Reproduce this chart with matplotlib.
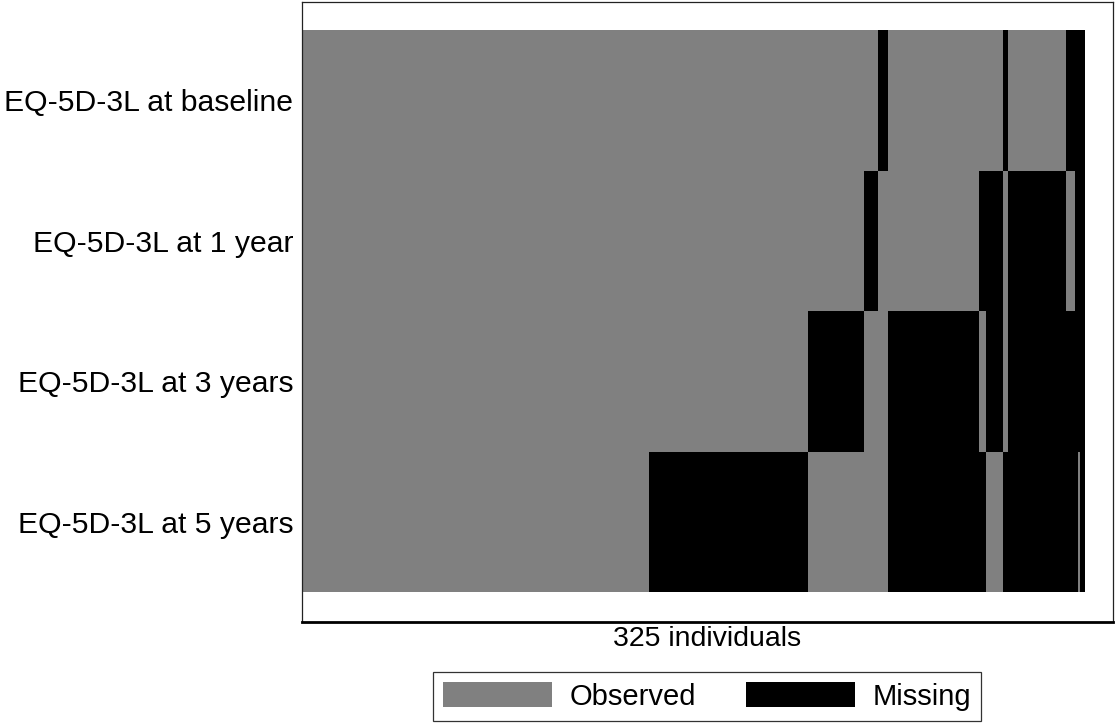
import matplotlib.pyplot as plt
import numpy as np
from matplotlib.colors import ListedColormap
from matplotlib.patches import Patch

plt.rcParams["font.family"] = ["Liberation Sans", "DejaVu Sans"]

variables = [
    "EQ-5D-3L at baseline",
    "EQ-5D-3L at 1 year",
    "EQ-5D-3L at 3 years",
    "EQ-5D-3L at 5 years",
]
n_individuals = 325

# number of individuals sharing each missingness pattern (left to right)
pattern_counts = [144, 66, 23, 6, 4, 38, 3, 7, 2, 24, 4, 1, 1, 2]

# 1 = missing, 0 = observed, one list per variable
missing_baseline = [0, 0, 0, 0, 1, 0, 0, 0, 1, 0, 1, 1, 1, 1]
missing_1year = [0, 0, 0, 1, 0, 0, 1, 1, 0, 1, 0, 1, 1, 1]
missing_3years = [0, 0, 1, 0, 0, 1, 0, 1, 0, 1, 1, 1, 1, 1]
missing_5years = [0, 1, 0, 0, 0, 1, 1, 0, 1, 1, 1, 1, 0, 1]

legend_labels = ["Observed", "Missing"]
colors = ["#808080", "#000000"]


def main() -> None:
    patterns = [missing_baseline, missing_1year, missing_3years, missing_5years]
    matrix = np.array([np.repeat(p, pattern_counts) for p in patterns])

    W, H = 1115, 724
    fig = plt.figure(figsize=(W / 100, H / 100), dpi=100)
    ax = fig.add_axes([301.5 / W, 102 / H, 811.5 / W, 620 / H])

    cmap = ListedColormap(colors)
    ax.pcolormesh(
        np.arange(n_individuals + 1),
        np.arange(len(variables) + 1),
        matrix,
        cmap=cmap,
        vmin=0,
        vmax=1,
        edgecolor="none",
    )

    px = 782 / n_individuals
    xmin = -1.5 / px
    ax.set_xlim(xmin, xmin + 811.5 / px)
    ax.set_ylim(4 + 30 / 140.5, -28 / 140.5)

    ax.set_yticks(np.arange(len(variables)) + 0.5)
    ax.set_yticklabels(variables, fontsize=21.7)
    ax.tick_params(axis="y", length=0, pad=6)
    ax.set_xticks([])
    ax.set_xlabel(f"{n_individuals} individuals", fontsize=20.5, labelpad=3)

    for side in ["left", "top", "right"]:
        ax.spines[side].set_linewidth(0.9)
        ax.spines[side].set_color("#222222")
    ax.spines["bottom"].set_linewidth(2.0)

    handles = [Patch(facecolor=c, edgecolor="none") for c in colors]
    leg = fig.legend(
        handles,
        legend_labels,
        loc="upper center",
        bbox_to_anchor=(707 / W, 1 - 672 / H),
        ncol=2,
        fontsize=21,
        frameon=True,
        fancybox=False,
        edgecolor="black",
        handlelength=3.75,
        handleheight=0.95,
        handletextpad=0.6,
        columnspacing=1.7,
        borderpad=0.35,
        borderaxespad=0,
    )
    leg.get_frame().set_linewidth(0.9)

    fig.savefig("out.png", dpi=100)


if __name__ == "__main__":
    main()
